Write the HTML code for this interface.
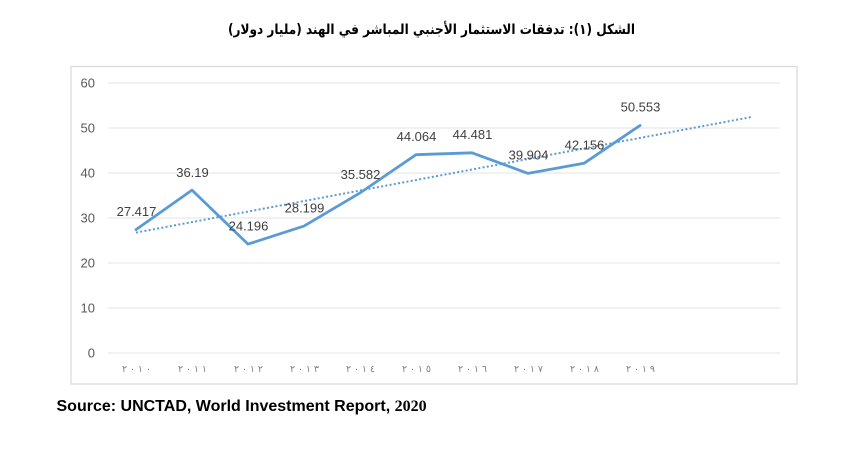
<!DOCTYPE html>
<html>
<head>
<meta charset="utf-8">
<style>
  html, body { margin:0; padding:0; background:#ffffff; }
  body { width:860px; height:452px; overflow:hidden; }
  svg { display:block; }
</style>
</head>
<body>
<svg width="860" height="452" viewBox="0 0 860 452" xmlns="http://www.w3.org/2000/svg">
  <rect x="0" y="0" width="860" height="452" fill="#ffffff"/>

  <!-- Title -->
  <text x="431.5" y="34" text-anchor="middle" direction="rtl" font-family="'DejaVu Sans', sans-serif" font-weight="bold" font-size="14" fill="#000" textLength="407" lengthAdjust="spacingAndGlyphs">الشكل (١): تدفقات الاستثمار الأجنبي المباشر في الهند (مليار دولار)</text>

  <!-- Chart border -->
  <rect x="71" y="66.5" width="726" height="317.5" fill="#ffffff" stroke="#d9d9d9" stroke-width="1.2"/>

  <!-- Gridlines -->
  <g stroke="#e3e3e3" stroke-width="1">
    <line x1="108" y1="83" x2="780" y2="83"/>
    <line x1="108" y1="128" x2="780" y2="128"/>
    <line x1="108" y1="173" x2="780" y2="173"/>
    <line x1="108" y1="218" x2="780" y2="218"/>
    <line x1="108" y1="263" x2="780" y2="263"/>
    <line x1="108" y1="308" x2="780" y2="308"/>
    <line x1="108" y1="353" x2="780" y2="353"/>
  </g>

  <!-- Y axis labels -->
  <g font-family="'Liberation Sans', sans-serif" font-size="13" fill="#595959" text-anchor="end">
    <text x="95" y="87.5">60</text>
    <text x="95" y="132.5">50</text>
    <text x="95" y="177.5">40</text>
    <text x="95" y="222.5">30</text>
    <text x="95" y="267.5">20</text>
    <text x="95" y="312.5">10</text>
    <text x="95" y="357.5">0</text>
  </g>

  <!-- X axis labels -->
  <g font-family="'DejaVu Sans', sans-serif" font-size="9.5" fill="#7f7f7f" text-anchor="middle">
    <text x="136.5" y="372" textLength="29" lengthAdjust="spacing">٢٠١٠</text>
    <text x="192.5" y="372" textLength="29" lengthAdjust="spacing">٢٠١١</text>
    <text x="248.5" y="372" textLength="29" lengthAdjust="spacing">٢٠١٢</text>
    <text x="304.5" y="372" textLength="29" lengthAdjust="spacing">٢٠١٣</text>
    <text x="360.5" y="372" textLength="29" lengthAdjust="spacing">٢٠١٤</text>
    <text x="416.5" y="372" textLength="29" lengthAdjust="spacing">٢٠١٥</text>
    <text x="472.5" y="372" textLength="29" lengthAdjust="spacing">٢٠١٦</text>
    <text x="528.5" y="372" textLength="29" lengthAdjust="spacing">٢٠١٧</text>
    <text x="584.5" y="372" textLength="29" lengthAdjust="spacing">٢٠١٨</text>
    <text x="640.5" y="372" textLength="29" lengthAdjust="spacing">٢٠١٩</text>
  </g>

  <!-- Trendline -->
  <line x1="136" y1="232.6" x2="752" y2="116.9" stroke="#5B9BD5" stroke-width="2" stroke-dasharray="2 2.3"/>

  <!-- Data series -->
  <polyline fill="none" stroke="#5B9BD5" stroke-width="2.8" stroke-linejoin="round" stroke-linecap="round"
    points="136,229.6 192,190.1 248,244.1 304,226.1 360,192.9 416,154.7 472,152.8 528,173.4 584,163.3 640,125.5"/>

  <!-- Data labels -->
  <g font-family="'Liberation Sans', sans-serif" font-size="13" fill="#404040" text-anchor="middle">
    <text x="136.5" y="216">27.417</text>
    <text x="192.5" y="177">36.19</text>
    <text x="248.5" y="230.5">24.196</text>
    <text x="304.5" y="212.5">28.199</text>
    <text x="360.5" y="179">35.582</text>
    <text x="416.5" y="141">44.064</text>
    <text x="472.5" y="139">44.481</text>
    <text x="528.5" y="159.5">39.904</text>
    <text x="584.5" y="149.5">42.156</text>
    <text x="640.5" y="111.5">50.553</text>
  </g>

  <!-- Source -->
  <text x="56.5" y="411" font-family="'Liberation Sans', sans-serif" font-weight="bold" font-size="16" fill="#000">Source: UNCTAD, World Investment Report, <tspan font-family="'Liberation Serif', serif">2020</tspan></text>
</svg>
</body>
</html>
